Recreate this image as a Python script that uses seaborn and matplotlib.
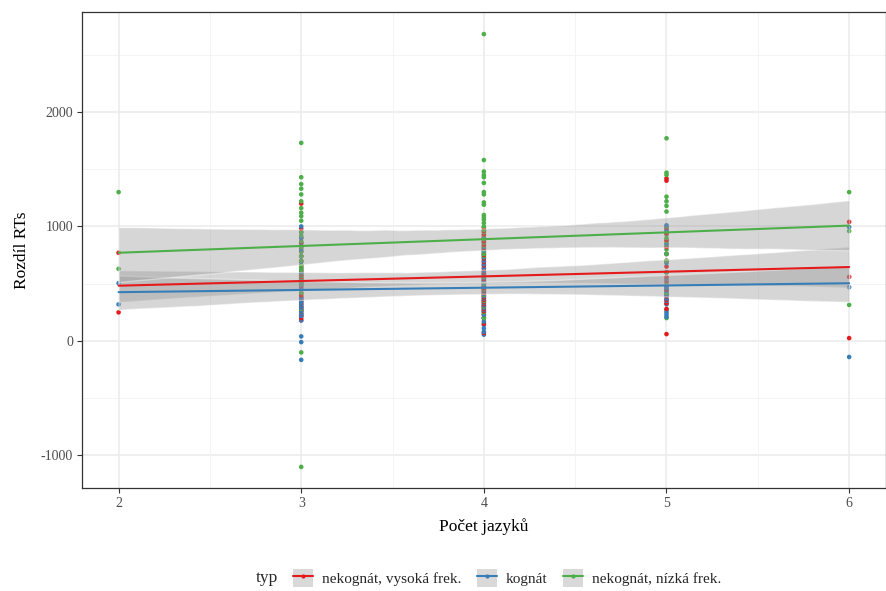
import numpy as np
import pandas as pd
import matplotlib
matplotlib.use("Agg")
import matplotlib.pyplot as plt
import seaborn as sns
from matplotlib.lines import Line2D
from matplotlib.patches import Patch

# values, per group and per number of languages
groups = ["nekognát, vysoká frek.", "kognát", "nekognát, nízká frek."]
colors = ["#E41A1C", "#377EB8", "#4DAF4A"]

red_2 = [770, 250]
red_3 = [1200, 980, 900, 860, 820, 780, 740, 700, 660, 620, 600, 580, 560, 540, 510,
         480, 450, 420, 400, 380, 360, 340, 320, 300, 280, 260, 240, 220, 200, 180]
red_4 = [990, 960, 930, 900, 870, 840, 810, 780, 750, 720, 690, 660, 630, 600, 580, 560,
         540, 520, 500, 480, 460, 440, 420, 400, 380, 360, 340, 320, 300, 280, 260, 230,
         200, 150, 70]
red_5 = [1420, 1400, 990, 940, 880, 820, 760, 700, 650, 600, 560, 520, 480, 450, 420,
         390, 360, 330, 280, 60]
red_6 = [1040, 560, 25]

blue_2 = [505, 320]
blue_3 = [1000, 950, 900, 850, 800, 740, 690, 640, 600, 570, 540, 510, 490, 470, 450,
          380, 360, 340, 320, 300, 290, 270, 260, 240, 220, 220, 180, 40, -10, -165]
blue_4 = [900, 860, 820, 790, 760, 730, 700, 670, 640, 610, 590, 570, 550, 530, 510, 490,
          470, 450, 430, 410, 390, 370, 350, 330, 310, 290, 270, 250, 230, 200, 170, 140,
          110, 80, 55]
blue_5 = [1010, 970, 850, 760, 680, 600, 540, 480, 480, 460, 440, 420, 400, 370, 350,
          320, 270, 250, 230, 210]
blue_6 = [995, 470, -140]

green_2 = [1300, 630]
green_3 = [1730, 1430, 1370, 1330, 1280, 1220, 1160, 1120, 1090, 1050, 950, 920, 870,
           820, 780, 740, 700, 660, 640, 620, 590, 570, 550, 520, 500, 500, 420, 280,
           -100, -1100]
green_4 = [2680, 1580, 1480, 1450, 1430, 1380, 1300, 1280, 1210, 1190, 1100, 1080, 1060,
           1030, 1000, 970, 950, 920, 890, 860, 830, 800, 780, 760, 740, 580, 560, 520,
           500, 450, 400, 350, 300, 250, 200]
green_5 = [1770, 1470, 1450, 1260, 1220, 1180, 1130, 1000, 960, 930, 900, 870, 840, 800,
           760, 700, 600, 500, 420, 200]
green_6 = [1300, 960, 315]

series = {
    groups[0]: [red_2, red_3, red_4, red_5, red_6],
    groups[1]: [blue_2, blue_3, blue_4, blue_5, blue_6],
    groups[2]: [green_2, green_3, green_4, green_5, green_6],
}
n_langs = [2, 3, 4, 5, 6]

rows = []
for g, cols in series.items():
    for x, vals in zip(n_langs, cols):
        for v in vals:
            rows.append((x, v, g))
df = pd.DataFrame(rows, columns=["jazyky", "rt", "typ"])
df = df.sort_values(["jazyky", "rt"]).reset_index(drop=True)

sns.set_theme(style="white")
plt.rcParams["font.family"] = ["Liberation Serif", "DejaVu Serif"]
plt.rcParams["axes.unicode_minus"] = False

fig = plt.figure(figsize=(8.87, 5.91), dpi=100)
ax = fig.add_axes([0.0925, 0.1743, 0.906, 0.8054])

# grid like theme_bw
for y in [-1000, 0, 1000, 2000]:
    ax.axhline(y, color="#EBEBEB", lw=1.1, zorder=0)
for y in [-500, 500, 1500, 2500]:
    ax.axhline(y, color="#F2F2F2", lw=0.6, zorder=0)
for x in n_langs:
    ax.axvline(x, color="#EBEBEB", lw=1.1, zorder=0)
for x in [2.5, 3.5, 4.5, 5.5]:
    ax.axvline(x, color="#F2F2F2", lw=0.6, zorder=0)

pal = dict(zip(groups, colors))
sns.scatterplot(data=df, x="jazyky", y="rt", hue="typ", palette=pal, s=11,
                linewidth=0, legend=False, ax=ax, zorder=2)

for g, c in zip(groups, colors):
    sub = df[df["typ"] == g]
    sns.regplot(data=sub, x="jazyky", y="rt", scatter=False, ci=95, seed=0,
                color="#999999", line_kws={"lw": 1.5, "zorder": 4}, ax=ax)
    ax.lines[-1].set_color(c)
    ax.collections[-1].set_alpha(0.4)
    ax.collections[-1].set_zorder(3)

ax.set_xlim(1.8, 6.2)
ax.set_ylim(-1284, 2873)
ax.set_xticks(n_langs)
ax.set_yticks([-1000, 0, 1000, 2000])
ax.tick_params(axis="both", which="major", length=3.5, width=0.8, color="#333333",
               labelcolor="#4D4D4D", labelsize=10, bottom=True, left=True, pad=3)
for s in ax.spines.values():
    s.set_color("#333333")
    s.set_linewidth(0.9)
ax.set_xlabel("Počet jazyků", fontsize=12.5, color="black", labelpad=6)
ax.set_ylabel("Rozdíl RTs", fontsize=12.5, color="black", labelpad=8)

handles = [(Patch(facecolor="#D9D9D9", edgecolor="none"),
            Line2D([], [], color=c, lw=1.5, marker="o", markersize=3,
                   markeredgewidth=0)) for c in colors]
leg = fig.legend(handles, groups, loc="center", bbox_to_anchor=(0.572, 0.022),
                 ncol=3, frameon=False, fontsize=11, handlelength=1.3,
                 handleheight=1.5, columnspacing=1.0, handletextpad=0.6)
fig.text(0.313, 0.022, "typ", fontsize=12.5, va="center", ha="right")

fig.savefig("out.png", dpi=100)
